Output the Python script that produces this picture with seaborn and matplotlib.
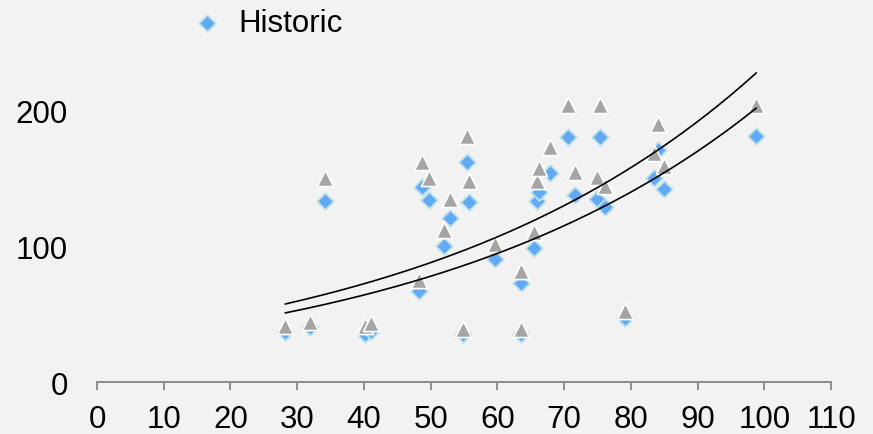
import numpy as np
import pandas as pd
import matplotlib
matplotlib.use("Agg")
import matplotlib.pyplot as plt
import seaborn as sns

# Observations: x position, historic value and the adjusted value above it
x_vals = [28.2, 31.9, 34.2, 40.2, 41.0, 48.3, 48.7, 49.8, 52.0, 52.9,
          54.9, 55.5, 55.8, 59.6, 63.5, 63.6, 65.5, 65.9, 66.3, 67.9,
          70.6, 71.6, 74.9, 75.4, 76.1, 79.1, 83.5, 84.0, 85.0, 98.8]
historic = [37.4, 41.0, 134.0, 36.0, 38.0, 67.7, 143.8, 134.3, 100.6, 120.8,
            35.7, 162.3, 132.8, 91.3, 73.3, 35.7, 99.0, 133.5, 140.5, 154.6,
            181.0, 137.7, 134.8, 181.1, 129.5, 47.5, 150.5, 171.0, 142.6, 181.4]
adjusted = [41.8, 44.4, 150.5, 41.5, 43.8, 75.8, 162.0, 150.5, 112.2, 135.2,
            39.4, 181.8, 148.7, 102.0, 82.4, 39.6, 110.5, 148.7, 158.0, 173.3,
            204.0, 154.9, 151.2, 204.0, 145.0, 52.9, 168.8, 190.5, 159.3, 204.0]

# Exponential trendlines y = a * exp(b * x): historic, adjusted
trend_a = [29.6, 33.4]
trend_b = [0.01944, 0.01944]

x_ticks = list(range(0, 111, 10))
y_ticks = [0, 100, 200]

df = pd.DataFrame({"x": x_vals, "Historic": historic, "Adjusted": adjusted})

sns.set_theme(style="white")
bg = "#f2f2f2"
axis_grey = "#8c8c8c"
plt.rcParams["font.family"] = ["Liberation Sans", "DejaVu Sans"]
plt.rcParams["text.color"] = "black"

fig = plt.figure(figsize=(8.73, 4.35), dpi=100, facecolor=bg)
ax = fig.add_axes([0.1111, 0.1184, 0.8408, 0.7805])
ax.set_facecolor(bg)

sns.scatterplot(data=df, x="x", y="Historic", ax=ax, marker="D", s=72,
                color="#62a9f6", edgecolor="#bfe3e8", linewidth=1.3,
                legend=False, zorder=3)
sns.scatterplot(data=df, x="x", y="Adjusted", ax=ax, marker="^", s=135,
                color="#a5a5a5", edgecolor="white", linewidth=1.2,
                legend=False, zorder=4)

xs = np.linspace(min(x_vals), max(x_vals), 200)
for a, b in zip(trend_a, trend_b):
    sns.lineplot(x=xs, y=a * np.exp(b * xs), ax=ax,
                 color="black", linewidth=1.2, zorder=5)

if ax.get_legend() is not None:
    ax.get_legend().remove()

ax.set_xlim(0, 110)
ax.set_ylim(0, 250)
ax.set_xticks(x_ticks)
ax.set_yticks(y_ticks)
ax.set_xlabel("")
ax.set_ylabel("")

for side in ("top", "right", "left"):
    ax.spines[side].set_visible(False)
ax.spines["bottom"].set_color(axis_grey)
ax.spines["bottom"].set_linewidth(1.4)
ax.tick_params(axis="x", direction="out", length=6, width=1.4,
               color=axis_grey, labelsize=22.5, labelcolor="black", pad=9.5,
               bottom=True)
ax.tick_params(axis="y", length=0, labelsize=22.5, labelcolor="black", pad=21)
ax.grid(False)

# Legend entry for the historic series at the top of the figure
handle = ax.collections[0]
leg = fig.legend([handle], ["Historic"], loc="center left",
                 bbox_to_anchor=(0.219, 0.944), frameon=False, fontsize=22.5,
                 handlelength=1.0, handletextpad=0.5, borderpad=0,
                 borderaxespad=0, scatterpoints=1)
for t in leg.get_texts():
    t.set_color("black")

fig.savefig("out.png", dpi=100, facecolor=bg)
